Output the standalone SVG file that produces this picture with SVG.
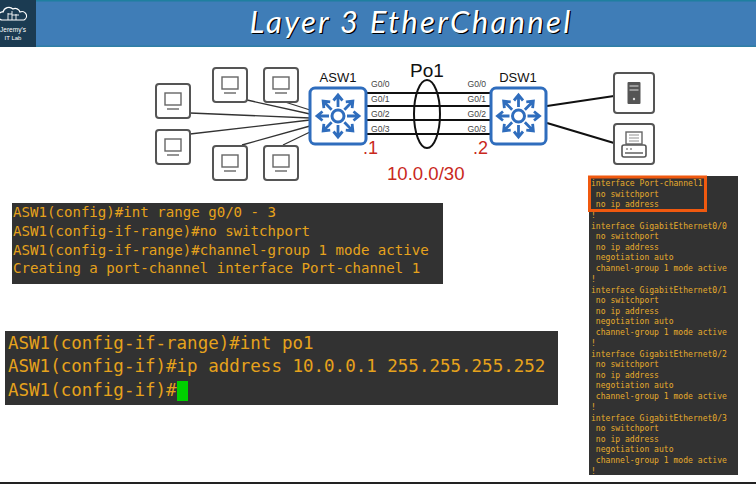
<svg xmlns="http://www.w3.org/2000/svg" width="756" height="484" viewBox="0 0 756 484">
<style>
.box{fill:#fff;stroke:#555;stroke-width:2}
.ico{fill:none;stroke:#666;stroke-width:1.4}
.sw{fill:#fff;stroke:#2f6dbd;stroke-width:3}
.lbl{font-family:"Liberation Sans",Arial,sans-serif;fill:#111}
.port{font-family:"Liberation Sans",Arial,sans-serif;font-size:8.6px;fill:#444}
.red{font-family:"Liberation Sans",Arial,sans-serif;font-size:18px;fill:#c9281c}
.term{fill:#323232}
.t1{font-family:"DejaVu Sans Mono","Liberation Mono",monospace;font-size:14.1px;fill:#e6a21c}
.t2{font-family:"DejaVu Sans Mono","Liberation Mono",monospace;font-size:17.5px;fill:#e6a21c}
.t3{font-family:"DejaVu Sans Mono","Liberation Mono",monospace;font-size:8.07px;fill:#e6ab2c;white-space:pre}
.thin{stroke:#333;stroke-width:1.3;fill:none}
.thick{stroke:#111;stroke-width:2.2;fill:none}
.title{font-family:Lato,"Open Sans",sans-serif;font-style:italic;font-size:31px;letter-spacing:2.3px;text-anchor:middle}
</style>
<defs>
<g id="pc">
<rect class="box" x="0" y="0" width="34" height="34" rx="3"/>
<rect class="ico" x="9" y="9" width="16" height="12"/>
<path class="ico" d="M11 25H23"/>
</g>
<g id="arrow"><path d="M0 -9V-19M-4.5 -15.5L0 -21L4.5 -15.5" fill="none" stroke="#2f6dbd" stroke-width="2.8"/></g>
<g id="swicon">
<circle r="6" fill="none" stroke="#2f6dbd" stroke-width="3"/>
<use href="#arrow"/><use href="#arrow" transform="rotate(45)"/><use href="#arrow" transform="rotate(90)"/><use href="#arrow" transform="rotate(135)"/><use href="#arrow" transform="rotate(180)"/><use href="#arrow" transform="rotate(225)"/><use href="#arrow" transform="rotate(270)"/><use href="#arrow" transform="rotate(315)"/>
</g>
</defs>
<rect width="756" height="484" fill="#fff"/>
<g id="header">
<rect width="756" height="47" fill="#3f7db7"/>
<rect width="756" height="1.5" fill="#1f7f9f"/>
<rect y="45.5" width="756" height="1.5" fill="#2f7fa5"/>
<rect width="36" height="47" fill="#1b3b52"/>
<path d="M2 20a4 4 0 0 1 1-8a6 6 0 0 1 10-3a5 5 0 0 1 7 3a4 4 0 0 1 4 8Z" fill="none" stroke="#fff" stroke-width="1.2"/>
<path d="M8 20V13M12 20V11M16 20V14M8 14H12M12 15H19" fill="none" stroke="#fff" stroke-width="0.9"/>
<text x="13" y="31.5" font-family="Liberation Sans,sans-serif" font-size="6.5" fill="#fff" text-anchor="middle">Jeremy's</text>
<text x="13" y="40" font-family="Liberation Sans,sans-serif" font-size="6" fill="#fff" text-anchor="middle">IT Lab</text>
<text class="title" x="411" y="33" fill="#000" transform="translate(1.2 1.2)">Layer 3 EtherChannel</text>
<text class="title" x="411" y="33" fill="#fff">Layer 3 EtherChannel</text>
</g>
<g id="connectors">
<path class="thin" d="M247 100L310 114M285 102L310 110M190 113L310 118M190 134L310 120M242 145L310 126M283 145L310 132"/>
<path class="thick" d="M366 93H491M366 106H491M366 120H491M366 134H491M547 106L614 96M547 123L614 143"/>
</g>
<g id="pc1"><use href="#pc" x="156" y="84"/></g>
<g id="pc2"><use href="#pc" x="213" y="68"/></g>
<g id="pc3"><use href="#pc" x="264" y="68"/></g>
<g id="pc4"><use href="#pc" x="156" y="130"/></g>
<g id="pc5"><use href="#pc" x="213" y="146"/></g>
<g id="pc6"><use href="#pc" x="264" y="146"/></g>
<g id="asw1">
<rect class="sw" x="310" y="88" width="56" height="56" rx="5"/>
<use href="#swicon" x="338" y="116"/>
<text class="lbl" x="338" y="82" font-size="13" text-anchor="middle">ASW1</text>
</g>
<g id="dsw1">
<rect class="sw" x="491" y="88" width="55" height="56" rx="5"/>
<use href="#swicon" x="518.5" y="116"/>
<text class="lbl" x="518" y="82" font-size="13" text-anchor="middle">DSW1</text>
</g>
<g id="server">
<rect class="box" x="614" y="73" width="40" height="40" rx="3"/>
<rect x="627.5" y="82" width="13" height="22" rx="1" fill="#555"/>
<path d="M629.5 86H638.5M629.5 90H638.5" stroke="#ddd" stroke-width="1"/>
<circle cx="634" cy="99" r="1.2" fill="#ddd"/>
</g>
<g id="printer">
<rect class="box" x="614" y="124" width="40" height="40" rx="3"/>
<rect class="ico" x="626" y="132" width="16" height="12" stroke="#555"/>
<path d="M629 135H639M629 138H639M629 141H639" stroke="#777" stroke-width="0.8"/>
<rect x="622" y="145" width="24" height="12" rx="2" fill="none" stroke="#555" stroke-width="1.6"/>
<path d="M625 153H643" stroke="#555" stroke-width="1.4"/>
<path d="M626 149H628M630 149H632" stroke="#555" stroke-width="1.2"/>
</g>
<g id="po1">
<ellipse cx="427" cy="114" rx="13" ry="34" fill="none" stroke="#111" stroke-width="2"/>
<text class="lbl" x="427" y="77" font-size="19" text-anchor="middle">Po1</text>
</g>
<g id="labels">
<text class="port" x="371" y="87">G0/0</text><text class="port" x="371" y="102">G0/1</text><text class="port" x="371" y="117">G0/2</text><text class="port" x="371" y="132">G0/3</text>
<text class="port" x="467.5" y="87">G0/0</text><text class="port" x="467.5" y="102">G0/1</text><text class="port" x="467.5" y="117">G0/2</text><text class="port" x="467.5" y="132">G0/3</text>
<text class="red" x="363" y="154">.1</text>
<text class="red" x="473" y="154">.2</text>
<text class="red" x="387" y="180" style="font-size:18.6px">10.0.0/30</text>
</g>
<g id="terminal1">
<rect x="12" y="203" width="431" height="81" class="term"/>
<text class="t1" x="13" y="217">ASW1(config)#int range g0/0 - 3</text>
<text class="t1" x="13" y="236">ASW1(config-if-range)#no switchport</text>
<text class="t1" x="13" y="255">ASW1(config-if-range)#channel-group 1 mode active</text>
<text class="t1" x="13" y="273">Creating a port-channel interface Port-channel 1</text>
</g>
<g id="terminal2">
<rect x="5" y="331" width="553" height="74" class="term"/>
<text class="t2" x="8" y="349">ASW1(config-if-range)#int po1</text>
<text class="t2" x="8" y="372">ASW1(config-if)#ip address 10.0.0.1 255.255.255.252</text>
<text class="t2" x="8" y="396">ASW1(config-if)#</text>
<rect x="177" y="381" width="11" height="20" fill="#00d000"/>
</g>
<g id="terminal3">
<rect x="589" y="176" width="149" height="299" class="term"/>
<text class="t3" x="591" y="186">interface Port-channel1</text>
<text class="t3" x="591" y="197"> no switchport</text>
<text class="t3" x="591" y="207"> no ip address</text>
<text class="t3" x="591" y="218">!</text>
<text class="t3" x="591" y="229">interface GigabitEthernet0/0</text>
<text class="t3" x="591" y="239"> no switchport</text>
<text class="t3" x="591" y="250"> no ip address</text>
<text class="t3" x="591" y="260"> negotiation auto</text>
<text class="t3" x="591" y="271"> channel-group 1 mode active</text>
<text class="t3" x="591" y="282">!</text>
<text class="t3" x="591" y="293">interface GigabitEthernet0/1</text>
<text class="t3" x="591" y="303"> no switchport</text>
<text class="t3" x="591" y="314"> no ip address</text>
<text class="t3" x="591" y="324"> negotiation auto</text>
<text class="t3" x="591" y="335"> channel-group 1 mode active</text>
<text class="t3" x="591" y="346">!</text>
<text class="t3" x="591" y="357">interface GigabitEthernet0/2</text>
<text class="t3" x="591" y="367"> no switchport</text>
<text class="t3" x="591" y="378"> no ip address</text>
<text class="t3" x="591" y="388"> negotiation auto</text>
<text class="t3" x="591" y="399"> channel-group 1 mode active</text>
<text class="t3" x="591" y="410">!</text>
<text class="t3" x="591" y="421">interface GigabitEthernet0/3</text>
<text class="t3" x="591" y="431"> no switchport</text>
<text class="t3" x="591" y="442"> no ip address</text>
<text class="t3" x="591" y="452"> negotiation auto</text>
<text class="t3" x="591" y="463"> channel-group 1 mode active</text>
<text class="t3" x="591" y="474">!</text>
<rect x="589.5" y="177" width="116" height="33.5" fill="none" stroke="#f0590f" stroke-width="3"/>
</g>
<rect id="bottom-line" y="482" width="756" height="2" fill="#222"/>
</svg>
